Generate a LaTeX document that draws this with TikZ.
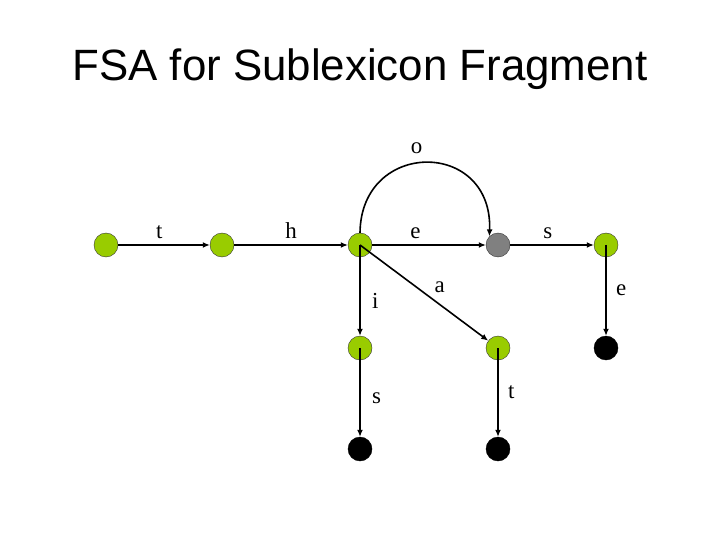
\documentclass[tikz,border=0pt]{standalone}
\usepackage{fontspec}
\setmainfont{Liberation Serif}
\newfontfamily\titlefont{Liberation Sans}
\usetikzlibrary{arrows.meta,positioning}

\definecolor{stategreen}{RGB}{153,204,0}
\definecolor{stategray}{RGB}{128,128,128}

\begin{document}
\begin{tikzpicture}[
    x=1bp, y=-1bp,
    state/.style={circle, draw=black!80, thin, fill=stategreen, minimum size=24bp, inner sep=0pt},
    open/.style={state, fill=stategray},
    final/.style={state, draw=black, fill=black},
    arrow/.style={-{Latex[length=7bp,width=6bp]}, line width=1.6bp},
    label/.style={font=\fontsize{23}{25}\selectfont}
]
\useasboundingbox (0,0) rectangle (720,540);

% Title
\node[font=\titlefont\fontsize{44}{48}\selectfont] (title) at (360,69) {FSA for Sublexicon Fragment};

% States
\node[state] (q0) at (106,245) {};
\node[state] (q1) at (222,245) {};
\node[state] (q2) at (360,245) {};
\node[open]  (q3) at (498,245) {};
\node[state] (q4) at (606,245) {};
\node[state] (q5) at (360,348) {};
\node[state] (q6) at (498,348) {};
\node[final] (q7) at (606,348) {};
\node[final] (q8) at (360,449) {};
\node[final] (q9) at (498,449) {};

% Transitions
\draw[arrow] (q0) -- node[label, above=2bp, pos=0.45] {t} (q1);
\draw[arrow] (q1) -- node[label, above=2bp] {h} (q2);
\draw[arrow] (q2) -- node[label, above=2bp, pos=0.38] {e} (q3);
\draw[arrow] (q3) -- node[label, above=2bp, pos=0.45] {s} (q4);
\draw[arrow] (q2.north) .. controls (361,139) and (493,139) .. (q3.north west)
    node[label, pos=0.45, above=6bp] {o};
\draw[arrow] (q2.center) -- node[label, right=8bp, pos=0.62] {i} (q5);
\draw[arrow] (q2.center) -- node[label, above right=1bp and 0bp, pos=0.55] {a} (q6);
\draw[arrow] (q4.center) -- node[label, right=6bp, pos=0.5] {e} (q7);
\draw[arrow] (q5.center) -- node[label, right=8bp, pos=0.57] {s} (q8);
\draw[arrow] (q6.center) -- node[label, right=6bp, pos=0.5] {t} (q9);

\end{tikzpicture}
\end{document}
